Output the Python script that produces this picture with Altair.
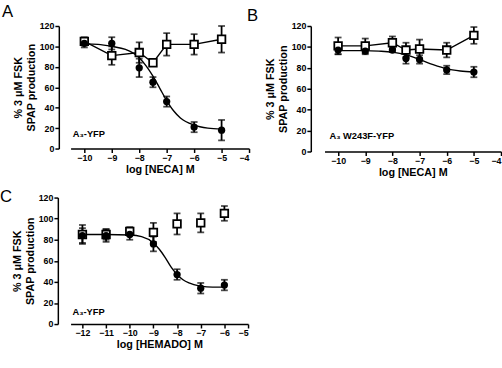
import altair as alt
import pandas as pd

FONT = "Liberation Sans"

# Panel A: NECA at A3-YFP
a_logc = [-10, -9, -8, -7.5, -7, -6, -5]
a_fill = [103, 103, 79, 65, 46, 21, 18]
a_fill_err = [4, 6, 9, 5, 5, 5, 10]
a_open = [105, 91, 94, 84, 102, 102, 107]
a_open_err = [4, 9, 10, 3, 11, 10, 13]
a_curve_x = [-10, -9.5, -9, -8.5, -8, -7.75, -7.5, -7.25, -7, -6.75, -6.5, -6, -5.5, -5]
a_curve_y = [102.5, 102, 100, 97, 89, 81, 71, 59, 47, 37, 30, 23, 20, 19]

# Panel B: NECA at A3 W243F-YFP
b_logc = [-10, -9, -8, -7.5, -7, -6, -5]
b_fill = [97, 96, 97, 89, 88, 78, 76]
b_fill_err = [4, 3, 2, 5, 4, 4, 5]
b_open = [101, 101, 104, 97, 98, 97, 111]
b_open_err = [8, 7, 6, 7, 9, 7, 8]
b_curve_x = [-10, -9, -8.5, -8, -7.5, -7, -6.5, -6, -5.5, -5]
b_curve_y = [96.5, 96.5, 96, 95, 92.5, 88, 83, 79, 77, 76]

# Panel C: HEMADO at A3-YFP
c_logc = [-12, -11, -10, -9, -8, -7, -6]
c_fill = [84, 84, 85, 76, 47, 34, 37]
c_fill_err = [7, 6, 5, 7, 5, 5, 5]
c_open = [85, 85, 88, 87, 95, 96, 105]
c_open_err = [9, 5, 4, 9, 10, 9, 7]
c_curve_x = [-12, -11, -10, -9.5, -9, -8.75, -8.5, -8.25, -8, -7.75, -7.5, -7, -6.5, -6]
c_curve_y = [85, 85, 84.5, 83, 77, 71, 63, 54, 47, 42, 39, 36, 35, 35]

y_ticks = [0, 20, 40, 60, 80, 100, 120]
y_title = ["% 3 \u03bcM FSK", "SPAP production"]


def panel(logc, fill, fill_err, opn, opn_err, cx, cy, join_open,
          x_dom, x_ticks, x_title, label, label_xy, w, h, y_offset, letters):
    pts = pd.DataFrame({
        "logc": logc * 2,
        "mean": fill + opn,
        "err": fill_err + opn_err,
        "series": ["fill"] * len(logc) + ["open"] * len(logc),
    })
    pts["lo"] = pts["mean"] - pts["err"]
    pts["hi"] = pts["mean"] + pts["err"]
    curve = pd.DataFrame({"logc": cx, "val": cy})

    xs = alt.Scale(domain=x_dom, nice=False, zero=False)
    ys = alt.Scale(domain=[0, 120], nice=False)
    xaxis = alt.Axis(values=x_ticks, format="d", title=x_title, grid=False,
                     domainColor="black", domainWidth=1.5, tickColor="black",
                     tickWidth=1.5, tickSize=4, labelFont=FONT, labelFontSize=9,
                     labelFontWeight="bold", labelColor="black", labelPadding=1,
                     titleFont=FONT, titleFontSize=11, titleFontWeight="bold",
                     titleColor="black", titlePadding=1)
    yaxis = alt.Axis(values=y_ticks, title=y_title, grid=False, offset=y_offset,
                     domainColor="black", domainWidth=1.5, tickColor="black",
                     tickWidth=1.5, tickSize=4, labelFont=FONT, labelFontSize=9,
                     labelFontWeight="bold", labelColor="black", labelPadding=1,
                     titleFont=FONT, titleFontSize=11, titleFontWeight="bold",
                     titleColor="black", titlePadding=3, titleLineHeight=13)

    def X():
        return alt.X("logc:Q", scale=xs, axis=xaxis)

    def Y(field):
        return alt.Y(f"{field}:Q", scale=ys, axis=yaxis)

    base = alt.Chart(pts)
    layers = [alt.Chart(curve).mark_line(color="black", strokeWidth=1.4,
                                         interpolate="monotone")
              .encode(x=X(), y=Y("val"))]
    if join_open:
        layers.append(base.transform_filter(alt.datum.series == "open")
                      .mark_line(color="black", strokeWidth=1.4)
                      .encode(x=X(), y=Y("mean")))
    layers.append(base.mark_rule(color="black", strokeWidth=1.8)
                  .encode(x=X(), y=Y("lo"), y2="hi:Q"))
    for col in ["lo", "hi"]:
        layers.append(base.mark_tick(color="black", orient="horizontal",
                                     size=7, thickness=1.8)
                      .encode(x=X(), y=Y(col)))
    layers.append(base.transform_filter(alt.datum.series == "open")
                  .mark_point(shape="square", filled=True, fill="white",
                              stroke="black", strokeWidth=1.8, size=60, opacity=1)
                  .encode(x=X(), y=Y("mean")))
    layers.append(base.transform_filter(alt.datum.series == "fill")
                  .mark_point(shape="circle", filled=True, color="black",
                              size=55, opacity=1)
                  .encode(x=X(), y=Y("mean")))
    lab = pd.DataFrame({"logc": [label_xy[0]], "val": [label_xy[1]], "t": [label]})
    layers.append(alt.Chart(lab).mark_text(align="left", baseline="alphabetic",
                                           font=FONT, fontSize=9.5,
                                           fontWeight="bold", color="black")
                  .encode(x=X(), y=Y("val"), text="t:N"))
    for letter, lx, ly in letters:
        layers.append(alt.Chart(pd.DataFrame({"t": [letter]})).mark_text(
            align="left", baseline="alphabetic", font=FONT, fontSize=17,
            color="black").encode(x=alt.value(lx), y=alt.value(ly), text="t:N"))
    return alt.layer(*layers).properties(width=w, height=h)


pa = panel(a_logc, a_fill, a_fill_err, a_open, a_open_err, a_curve_x, a_curve_y,
           True, [-10.5, -4], [-10, -9, -8, -7, -6, -5, -4], "log [NECA] M",
           "A\u2083-YFP", (-10.42, 11), 182, 125, 12,
           [("A", -70, -9), ("B", 180, -5)])
pb = panel(b_logc, b_fill, b_fill_err, b_open, b_open_err, b_curve_x, b_curve_y,
           True, [-10.5, -4], [-10, -9, -8, -7, -6, -5, -4], "log [NECA] M",
           "A\u2083 W243F-YFP", (-10.32, 12), 180, 128, 14, [])
pc = panel(c_logc, c_fill, c_fill_err, c_open, c_open_err, c_curve_x, c_curve_y,
           False, [-12.5, -5], [-12, -11, -10, -9, -8, -7, -6, -5],
           "log [HEMADO] M", "A\u2083-YFP", (-12.42, 8.5), 181, 129, 13,
           [("C", -72, 4)])

chart = alt.vconcat(
    alt.hconcat(pa, pb, spacing=5),
    pc,
    spacing=11,
).properties(padding=0, background="white").configure_view(stroke=None)

chart.save("out.html", embed_options={"renderer": "svg", "actions": False})
